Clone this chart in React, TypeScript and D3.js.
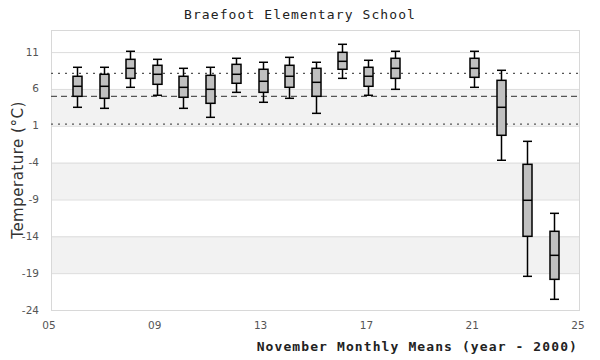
import React from "react";
import * as d3 from "d3";

const years = [6, 7, 8, 9, 10, 11, 12, 13, 14, 15, 16, 17, 18, 21, 22, 23, 24];
const whiskerHigh = [8.94, 8.94, 11.11, 10.02, 8.8, 8.94, 10.16, 9.62, 10.29, 9.62, 12.06, 9.89, 11.11, 11.11, 8.53, -1.11, -10.88];
const q3 = [7.72, 7.99, 10.02, 9.21, 7.72, 7.85, 9.34, 8.67, 9.21, 8.8, 10.97, 8.94, 10.16, 10.16, 7.17, -4.23, -13.32];
const medians = [6.36, 6.36, 8.8, 7.99, 6.22, 5.95, 7.99, 7.04, 7.72, 6.9, 9.75, 7.72, 8.8, 8.8, 3.51, -9.11, -16.58];
const q1 = [5.0, 4.73, 7.44, 6.63, 4.87, 4.05, 6.77, 5.54, 6.22, 5.0, 8.67, 6.36, 7.44, 7.58, -0.29, -14.0, -19.84];
const whiskerLow = [3.51, 3.37, 6.22, 5.14, 3.37, 2.15, 5.54, 4.19, 4.73, 2.69, 7.44, 5.14, 5.95, 6.22, -3.68, -19.43, -22.55];

const yTicks = [-24, -19, -14, -9, -4, 1, 6, 11];
const xTicks = [5, 9, 13, 17, 21, 25];
const meanLine = 5.0;
const upperLine = 8.12;
const lowerLine = 1.22;

const title = "Braefoot Elementary School";
const xLabel = "November Monthly Means (year - 2000)";
const yLabel = "Temperature (°C)";

export default function App() {
  const W = 600, H = 360;
  const left = 51, right = 580, top = 30, bottom = 310;
  const x = d3.scaleLinear().domain([5, 25]).range([left, right]);
  const y = d3.scaleLinear().domain([-24, 14]).range([bottom, top]);
  const bw = 9;
  const mono = "'DejaVu Sans Mono', 'Liberation Mono', monospace";
  const sans = "'DejaVu Sans', sans-serif";

  const bands = yTicks.slice(0, -1).map((t, i) => ({ lo: t, hi: yTicks[i + 1], gray: i % 2 === 1 }));

  return (
    <div style={{ position: "absolute", left: 0, top: 0 }}>
      <svg width={W} height={H} style={{ display: "block", background: "#fff" }}>
        {bands.filter(b => b.gray).map((b, i) => (
          <rect key={"b" + i} x={left} y={y(b.hi)} width={right - left} height={y(b.lo) - y(b.hi)} fill="#f2f2f2" />
        ))}
        {yTicks.map(t => (
          <line key={"g" + t} x1={left} x2={right} y1={y(t) + 0.5} y2={y(t) + 0.5} stroke="#dcdcdc" strokeWidth={1} />
        ))}
        <rect x={left + 0.5} y={top + 0.5} width={right - left - 1} height={bottom - top} fill="none" stroke="#d8d8d8" strokeWidth={1} />
        <line x1={left} x2={right} y1={y(upperLine)} y2={y(upperLine)} stroke="#555" strokeWidth={1.3} strokeDasharray="2,5" />
        <line x1={left} x2={right} y1={y(lowerLine)} y2={y(lowerLine)} stroke="#555" strokeWidth={1.3} strokeDasharray="2,5" />
        <line x1={left} x2={right} y1={y(meanLine)} y2={y(meanLine)} stroke="#555" strokeWidth={1.3} strokeDasharray="6,4" />
        {years.map((yr, i) => {
          const cx = Math.round(x(yr)) + 0.5;
          return (
            <g key={"box" + yr} stroke="#000" strokeWidth={1.5}>
              <line x1={cx} x2={cx} y1={y(whiskerHigh[i])} y2={y(q3[i])} />
              <line x1={cx} x2={cx} y1={y(q1[i])} y2={y(whiskerLow[i])} />
              <line x1={cx - bw / 2} x2={cx + bw / 2} y1={y(whiskerHigh[i])} y2={y(whiskerHigh[i])} />
              <line x1={cx - bw / 2} x2={cx + bw / 2} y1={y(whiskerLow[i])} y2={y(whiskerLow[i])} />
              <rect x={cx - bw / 2} y={y(q3[i])} width={bw} height={y(q1[i]) - y(q3[i])} fill="#c0c0c0" />
              <line x1={cx - bw / 2} x2={cx + bw / 2} y1={y(medians[i])} y2={y(medians[i])} />
            </g>
          );
        })}
        {yTicks.map(t => (
          <text key={"yt" + t} x={39} y={y(t) + 3.5} textAnchor="end" fontFamily={sans} fontSize={10.5} fill="#555">{t}</text>
        ))}
        {xTicks.map(t => (
          <text key={"xt" + t} x={x(t) - 2} y={329} textAnchor="middle" fontFamily={sans} fontSize={10.5} fill="#555">{String(t).padStart(2, "0")}</text>
        ))}
        <text x={300} y={19} textAnchor="middle" fontFamily={mono} fontSize={13} letterSpacing={1.1} fill="#222">{title}</text>
        <text x={578} y={351} textAnchor="end" fontFamily={mono} fontSize={13} fontWeight="bold" letterSpacing={1.1} fill="#222">{xLabel}</text>
        <text transform={`translate(23,170) rotate(-90)`} textAnchor="middle" fontFamily={sans} fontSize={15} letterSpacing={0.5} fill="#333">{yLabel}</text>
      </svg>
    </div>
  );
}
